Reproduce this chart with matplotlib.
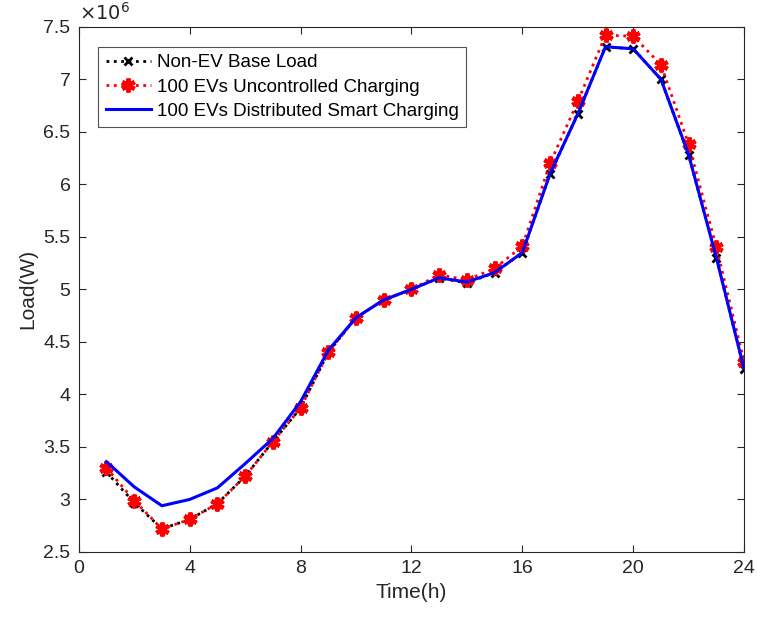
import numpy as np
import matplotlib
matplotlib.use("Agg")
import matplotlib.pyplot as plt
from matplotlib.ticker import FuncFormatter, MultipleLocator

plt.rcParams['font.family'] = ['Liberation Sans', 'DejaVu Sans']

# hours and loads (units of 1e6 W)
hours = np.arange(1, 25)
base_load = [3.26, 2.97, 2.72, 2.81, 2.96, 3.22, 3.55, 3.87, 4.40, 4.73, 4.90, 5.00,
             5.11, 5.06, 5.16, 5.35, 6.10, 6.67, 7.31, 7.29, 7.00, 6.28, 5.30, 4.24]
uncontrolled = [3.30, 2.99, 2.72, 2.81, 2.96, 3.22, 3.55, 3.87, 4.40, 4.73, 4.90, 5.00,
                5.14, 5.09, 5.20, 5.41, 6.20, 6.79, 7.42, 7.41, 7.14, 6.38, 5.40, 4.31]
smart = [3.36, 3.12, 2.94, 3.00, 3.11, 3.34, 3.58, 3.93, 4.42, 4.73, 4.90, 5.00,
         5.11, 5.07, 5.16, 5.35, 6.10, 6.67, 7.31, 7.29, 7.00, 6.28, 5.30, 4.24]

fig = plt.figure(figsize=(7.57, 6.23), dpi=100)
ax = fig.add_axes([0.104, 0.114, 0.879, 0.843])

axcol = '#262626'

ax.plot(hours, base_load, color='k', ls=':', lw=2,
        marker='x', ms=6, mew=2, label='Non-EV Base Load')
ax.plot(hours, uncontrolled, color='red', ls=':', lw=2,
        marker=(6, 2, 0), ms=10, mew=3, label='100 EVs Uncontrolled Charging')
ax.plot(hours, smart, color='#0000ff', ls='-', lw=2.2,
        label='100 EVs Distributed Smart Charging')

ax.set_xlim(0, 24)
ax.set_ylim(2.5, 7.5)
ax.xaxis.set_major_locator(MultipleLocator(4))
ax.yaxis.set_major_locator(MultipleLocator(0.5))
ax.yaxis.set_major_formatter(FuncFormatter(lambda v, p: '%g' % v))

ax.tick_params(direction='in', top=True, right=True, length=5, width=0.8,
               labelsize=14, colors=axcol, pad=6)
for s in ax.spines.values():
    s.set_color(axcol)
    s.set_linewidth(0.8)

ax.set_xlabel('Time(h)', fontsize=15, color=axcol)
ax.set_ylabel('Load(W)', fontsize=15, color=axcol, labelpad=4)

ax.text(0.0, 1.005, r'$\times10^{6}$', transform=ax.transAxes, fontsize=14,
        color=axcol, ha='left', va='bottom', family='DejaVu Sans')

leg = ax.legend(loc='upper left', bbox_to_anchor=(0.029, 0.962), borderaxespad=0,
                frameon=True, fancybox=False, edgecolor=axcol, handlelength=2.45,
                handletextpad=0.3, borderpad=0.4, labelspacing=0.38,
                prop={'size': 13.5})
leg.get_frame().set_linewidth(0.8)

fig.savefig('out.png', dpi=100)
